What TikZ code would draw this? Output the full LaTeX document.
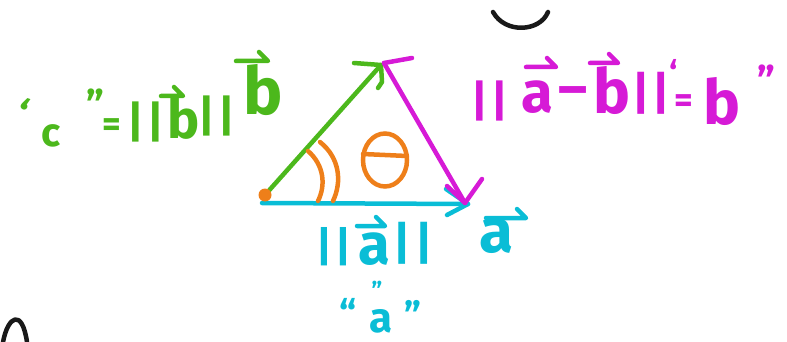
\documentclass[tikz,border=0pt]{standalone}
\usepackage{fontspec}
\setmainfont{Fira Sans}
\usetikzlibrary{shapes.geometric}
\definecolor{pgreen}{RGB}{76,184,28}
\definecolor{pmag}{RGB}{214,26,214}
\definecolor{pcyan}{RGB}{10,189,214}
\definecolor{porange}{RGB}{238,127,26}
\definecolor{pink}{RGB}{25,25,25}
\begin{document}
\begin{tikzpicture}[x=1pt,y=-1pt,
  pen/.style={line width=4.5pt,line cap=round,line join=round},
  ch/.style={inner sep=0pt,font=\fontsize{#1}{#1}\selectfont\bfseries},
  ch/.default=56,
  pics/harp/.style={code={\draw[pen] (-#1,0) -- (0,0) -- (-9,-9);}}]
\useasboundingbox (0,0) rectangle (787,342);
% key points
\coordinate (O) at (265,195);
\coordinate (Os) at (262,203);
\coordinate (B) at (381,65);
\coordinate (Bt) at (384,63);
\coordinate (A) at (468,204);
\coordinate (M) at (465,203);
% cyan vector a
\draw[pen,pcyan] (Os) -- (A);
\coordinate (ca1) at (446,189);
\coordinate (ca2) at (447,215);
\draw[pen,pcyan] (ca1) -- (A) -- (ca2);
% green vector b
\draw[pen,pgreen] (O) -- (B);
\coordinate (ga1) at (354,63);
\coordinate (ga2) at (382,82);
\coordinate (ga3) at (378,88);
\draw[pen,pgreen] (ga1) -- (B) -- (ga2) -- (ga3);
% magenta vector a-b
\coordinate (mt) at (412,58);
\draw[pen,pmag] (Bt) -- (mt);
\draw[pen,pmag] (Bt) -- (M);
\coordinate (ma1) at (447,186);
\coordinate (ma2) at (482,179);
\draw[pen,pmag] (ma1) -- (M) -- (ma2);
% orange origin dot and angle
\fill[porange] (O) circle (6.5);
\coordinate (r1a) at (308,151);
\coordinate (r1b) at (318,201);
\coordinate (r2a) at (320,142);
\coordinate (r2b) at (333,201);
\draw[pen,porange] (r1a) .. controls (324,165) and (326,185) .. (r1b);
\draw[pen,porange] (r2a) .. controls (340,158) and (342,182) .. (r2b);
\node[draw=porange,line width=4.5pt,ellipse,minimum width=44pt,minimum height=53pt,inner sep=0pt] (th) at (385,160) {};
\coordinate (tl) at (363,154);
\coordinate (tr) at (407,156);
\draw[pen,porange] (tl) -- (tr);
% ---------- green labels: "c" = ||b|| , b
\begin{scope}[pgreen]
\node[ch=40,rotate=-20] (g1) at (22,113) {‘};
\node[ch=40] (g2) at (51,136) {c};
\node[ch=40] (g3) at (95,104) {”};
\node[ch=36] (g4) at (112,128) {=};
\node[ch=44] (g5) at (146,122) {|\kern3pt|};
\node[ch=54] (g6) at (184,118) {b};
\pic at (183,96) {harp=22};
\node[ch=44] (g7) at (217,116) {|\kern3pt|};
\node[ch=66] (gb) at (263,90) {b};
\pic at (268,61) {harp=32};
\end{scope}
% ---------- magenta labels: ||a - b|| = "b"
\begin{scope}[pmag]
\node[ch=44] (m1) at (490,101) {|\kern3pt|};
\node[ch=58] (m2) at (537,97) {a};
\pic at (556,67) {harp=30};
\node[ch=56] (m3) at (573,97) {–};
\node[ch=62] (m4) at (612,90) {b};
\pic at (618,63) {harp=28};
\node[ch=46] (m5) at (651,93) {|\kern3pt|};
\node[ch=34] (m6) at (674,72) {‘};
\node[ch=36] (m7) at (684,104) {=};
\node[ch=62] (m8) at (722,101) {b};
\node[ch=40] (m9) at (766,80) {”};
\end{scope}
% ---------- cyan labels: ||a||, a, "a"
\begin{scope}[pcyan]
\node[ch=42] (c1) at (334,247) {|\kern4pt|};
\node[ch=58] (c2) at (374,249) {a};
\pic at (385,226) {harp=28};
\node[ch=46] (c3) at (413,243) {|\kern5pt|};
\node[ch=62] (ca) at (496,236) {a};
\pic at (526,218) {harp=40};
\node[ch=38] (c4) at (348,313) {“};
\node[ch=42] (c5) at (381,321) {a};
\node[ch=24] (c6) at (377,290) {”};
\node[ch=38] (c7) at (413,315) {”};
\end{scope}
% partial black strokes
\coordinate (k1) at (493,12);
\coordinate (k2) at (548,12);
\draw[pen,pink] (k1) .. controls (505,34) and (540,32) .. (k2);
\coordinate (n1) at (3,342);
\coordinate (n2) at (27,342);
\draw[pen,pink] (n1) .. controls (8,316) and (22,308) .. (n2);
\end{tikzpicture}
\end{document}
